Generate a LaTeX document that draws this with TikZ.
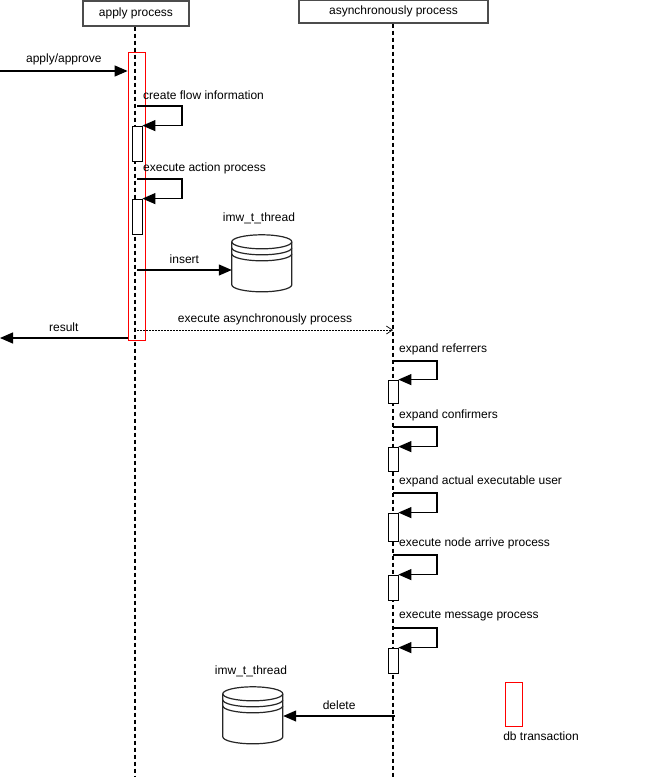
\documentclass[tikz,border=0pt]{standalone}
\usepackage{fontspec}
\setmainfont{Liberation Sans}
\usetikzlibrary{arrows.meta}
\begin{document}
\begin{tikzpicture}[x=1pt,y=-1pt,
  every node/.style={font=\fontsize{12}{14}\selectfont},
  head/.style={draw=black!70,line width=1.2pt,fill=white,inner sep=0pt},
  life/.style={dashed,line width=1.3pt,dash pattern=on 4pt off 3pt},
  msg/.style={line width=1.2pt,-{Triangle[length=13pt,width=11pt]}},
  act/.style={draw,fill=white,line width=0.8pt},
  lbl/.style={anchor=west,inner sep=0pt},
  db/.style={minimum width=60pt,minimum height=58pt,inner sep=0pt},
  dbline/.style={line width=1.2pt,draw=black!85},
  trans/.style={draw=red,line width=0.8pt}]
\useasboundingbox (0,0) rectangle (645,777);
\newcommand{\mycyl}[1]{%
  \draw[dbline,fill=white] (#1.north west) ++(0,8) -- ++(0,43) arc[start angle=180,end angle=360,x radius=30pt,y radius=7pt] -- ++(0,-43) arc[start angle=0,end angle=180,x radius=30pt,y radius=7pt] -- cycle;
  \draw[dbline] (#1.north west) ++(0,8) arc[start angle=180,end angle=360,x radius=30pt,y radius=7pt];
  \draw[dbline] (#1.north west) ++(0,14) arc[start angle=180,end angle=360,x radius=30pt,y radius=7pt];
  \draw[dbline] (#1.north west) ++(0,20) arc[start angle=180,end angle=360,x radius=30pt,y radius=7pt];}
% headers
\node[head,minimum width=106pt,minimum height=25pt] (ap) at (136,13.5) {apply process};
\node[head,minimum width=189pt,minimum height=23pt] (as) at (393.5,11.5) {asynchronously process};
\coordinate (apE) at (135,777);
\coordinate (asE) at (393,777);
\draw[life] (ap.south -| apE) -- (apE);
\draw[life] (as.south -| asE) -- (asE);
% transaction
\node[trans,minimum width=17pt,minimum height=288pt,inner sep=0pt] (tr) at (136.5,196) {};
% apply/approve
\coordinate (src) at (0,71);
\draw[msg] (src) -- (tr.west |- src) node[midway,above=2pt] {apply/approve};
% create flow
\node[act,minimum width=10pt,minimum height=35pt,inner sep=0pt] (a1) at (137,143.5) {};
\node[lbl] (l1) at (143,95) {create flow information};
\coordinate (c1) at (137,106);
\draw[msg] (c1) -- ++(45,0) |- (a1.north east);
\node[act,minimum width=10pt,minimum height=35pt,inner sep=0pt] (a2) at (137,216.5) {};
\node[lbl] (l2) at (143,168) {execute action process};
\coordinate (c2) at (137,179);
\draw[msg] (c2) -- ++(45,0) |- (a2.north east);
% db 1
\node[db] (db1) at (262,263) {};
\mycyl{db1}
\node (t1) at (259,218) {imw\_t\_thread};
\coordinate (i1) at (137,270);
\draw[msg] (i1) -- (db1.west |- i1) node[midway,above=2pt] {insert};
% async call
\coordinate (e1) at (137,330);
\draw[dashed,dash pattern=on 2pt off 1pt,line width=0.7pt,-{Straight Barb[length=6pt,width=8pt]}] (e1) -- (asE |- e1) node[midway,above=1pt] {execute asynchronously process};
\coordinate (rdst) at (0,338);
\draw[msg] (tr.west |- rdst) -- (rdst) node[midway,above=2pt] {result};
% async loops
\foreach \n/\ly/\ty/\by/\t in {b1/361/380/403/expand referrers,b2/427/447/471/expand confirmers,b3/493/513/541/expand actual executable user,b4/555/575/600/execute node arrive process,b5/628/648/673/execute message process}{
  \node[act,minimum width=10pt,minimum height={\by-\ty},inner sep=0pt] (\n) at (393,{(\ty+\by)/2}) {};
  \node[lbl] (\n l) at (399,\ly-12) {\t};
  \coordinate (\n c) at (393,\ly);
  \draw[msg] (\n c) -- ++(44,0) |- (\n.north east);
}
% db 2
\node[db] (db2) at (253,715) {};
\mycyl{db2}
\node (t2) at (251,671) {imw\_t\_thread};
\coordinate (d1) at (395,716);
\draw[msg] (d1) -- (db2.east |- d1) node[midway,above=2pt] {delete};
% legend
\node[trans,minimum width=17pt,minimum height=44pt,inner sep=0pt] (lg) at (513.5,704) {};
\node (lgt) at (541,736) {db transaction};
\end{tikzpicture}
\end{document}
